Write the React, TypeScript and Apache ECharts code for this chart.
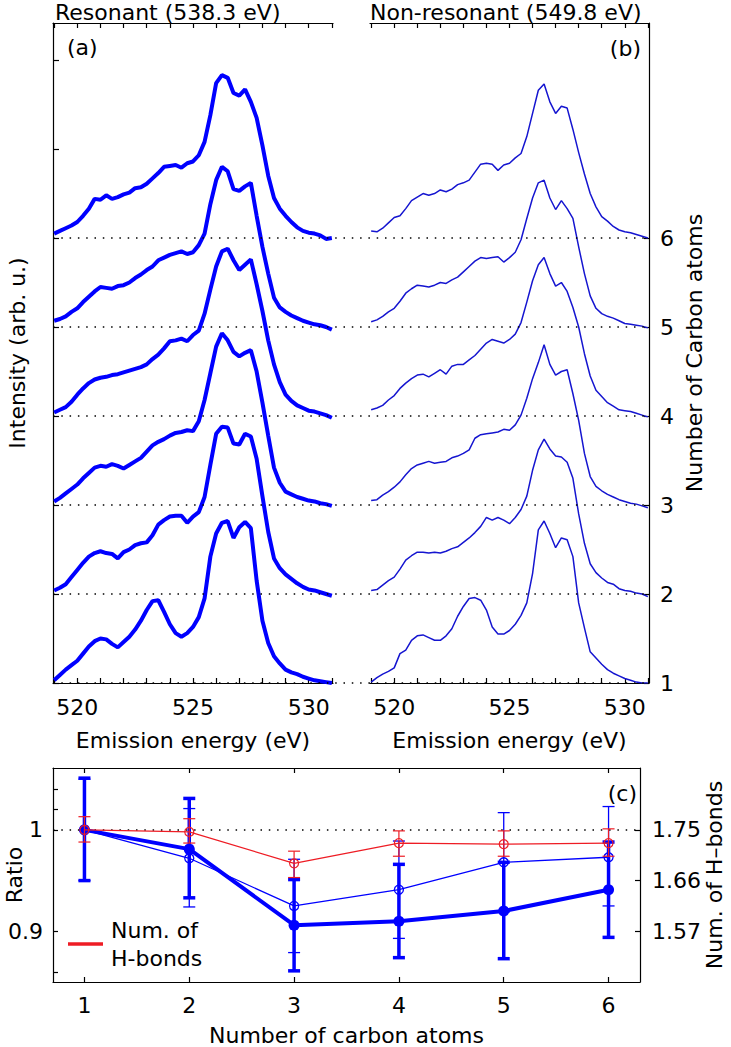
import React, { useEffect, useRef } from "react";
import * as echarts from "echarts";

// ---------- DATA ----------
const energyGrid = [519, 519.25, 519.5, 519.75, 520, 520.25, 520.5, 520.75, 521, 521.25, 521.5, 521.75, 522, 522.25, 522.5, 522.75, 523, 523.25, 523.5, 523.75, 524, 524.25, 524.5, 524.75, 525, 525.25, 525.5, 525.75, 526, 526.25, 526.5, 526.75, 527, 527.25, 527.5, 527.75, 528, 528.25, 528.5, 528.75, 529, 529.25, 529.5, 529.75, 530, 530.25, 530.5, 530.75, 531];

// Resonant (538.3 eV) spectra, intensity above each baseline (1 unit = one baseline step)
const res1 = [0.03, 0.09, 0.15, 0.2, 0.25, 0.33, 0.41, 0.47, 0.5, 0.49, 0.44, 0.4, 0.46, 0.52, 0.6, 0.7, 0.82, 0.92, 0.93, 0.8, 0.66, 0.56, 0.52, 0.56, 0.63, 0.74, 0.95, 1.42, 1.68, 1.8, 1.82, 1.63, 1.75, 1.81, 1.74, 1.15, 0.7, 0.45, 0.3, 0.22, 0.15, 0.12, 0.1, 0.07, 0.05, 0.03, 0.02, 0.01, 0.0];
const res2 = [0.04, 0.07, 0.11, 0.19, 0.27, 0.35, 0.42, 0.46, 0.48, 0.46, 0.45, 0.4, 0.47, 0.5, 0.55, 0.57, 0.58, 0.66, 0.78, 0.83, 0.87, 0.88, 0.88, 0.8, 0.87, 0.92, 1.09, 1.45, 1.8, 1.88, 1.87, 1.69, 1.68, 1.8, 1.77, 1.52, 1.1, 0.7, 0.4, 0.29, 0.22, 0.17, 0.12, 0.08, 0.05, 0.04, 0.02, 0.0, -0.02];
const res3 = [0.04, 0.08, 0.13, 0.18, 0.23, 0.3, 0.36, 0.42, 0.44, 0.43, 0.46, 0.44, 0.41, 0.45, 0.49, 0.53, 0.6, 0.67, 0.71, 0.74, 0.78, 0.81, 0.82, 0.84, 0.83, 0.94, 1.18, 1.48, 1.78, 1.93, 1.85, 1.72, 1.67, 1.71, 1.74, 1.5, 1.15, 0.78, 0.42, 0.25, 0.15, 0.12, 0.09, 0.07, 0.05, 0.04, 0.02, 0.01, -0.01];
const res4 = [0.04, 0.07, 0.1, 0.16, 0.24, 0.31, 0.37, 0.41, 0.43, 0.44, 0.46, 0.47, 0.49, 0.51, 0.53, 0.55, 0.58, 0.64, 0.69, 0.76, 0.84, 0.85, 0.87, 0.84, 0.91, 0.96, 1.15, 1.42, 1.68, 1.85, 1.88, 1.75, 1.64, 1.7, 1.76, 1.48, 1.18, 0.85, 0.58, 0.38, 0.24, 0.17, 0.12, 0.09, 0.06, 0.05, 0.03, 0.01, -0.02];
const res5 = [0.07, 0.09, 0.12, 0.17, 0.21, 0.28, 0.34, 0.4, 0.45, 0.44, 0.43, 0.46, 0.47, 0.5, 0.55, 0.59, 0.64, 0.68, 0.75, 0.78, 0.81, 0.83, 0.85, 0.82, 0.84, 0.92, 1.05, 1.38, 1.65, 1.8, 1.75, 1.55, 1.53, 1.58, 1.62, 1.25, 0.9, 0.6, 0.33, 0.22, 0.17, 0.13, 0.1, 0.07, 0.05, 0.03, 0.02, 0.0, -0.03];
const res6 = [0.05, 0.08, 0.11, 0.14, 0.18, 0.25, 0.33, 0.44, 0.43, 0.48, 0.44, 0.46, 0.49, 0.51, 0.56, 0.57, 0.61, 0.67, 0.73, 0.8, 0.81, 0.82, 0.79, 0.84, 0.86, 0.93, 1.08, 1.38, 1.74, 1.83, 1.8, 1.63, 1.6, 1.67, 1.53, 1.35, 1.04, 0.7, 0.45, 0.33, 0.25, 0.18, 0.12, 0.08, 0.06, 0.05, 0.03, -0.01, 0.0];

// Non-resonant (549.8 eV) spectra
const nonres1 = [0.01, 0.06, 0.1, 0.13, 0.17, 0.33, 0.37, 0.48, 0.53, 0.54, 0.51, 0.48, 0.48, 0.53, 0.61, 0.75, 0.86, 0.95, 0.96, 0.93, 0.82, 0.63, 0.55, 0.55, 0.59, 0.66, 0.76, 0.9, 1.23, 1.72, 1.82, 1.68, 1.52, 1.63, 1.61, 1.42, 0.9, 0.62, 0.35, 0.28, 0.21, 0.15, 0.11, 0.08, 0.05, 0.03, 0.01, 0.0, 0.0];
const nonres2 = [0.04, 0.05, 0.1, 0.15, 0.19, 0.28, 0.38, 0.43, 0.47, 0.47, 0.46, 0.47, 0.46, 0.48, 0.51, 0.53, 0.58, 0.63, 0.69, 0.76, 0.86, 0.83, 0.86, 0.83, 0.79, 0.86, 0.95, 1.1, 1.39, 1.62, 1.74, 1.63, 1.55, 1.54, 1.48, 1.3, 0.9, 0.57, 0.34, 0.24, 0.18, 0.13, 0.11, 0.06, 0.04, 0.03, 0.01, 0.0, -0.03];
const nonres3 = [0.05, 0.06, 0.11, 0.15, 0.2, 0.26, 0.34, 0.41, 0.45, 0.47, 0.49, 0.47, 0.48, 0.49, 0.53, 0.55, 0.58, 0.62, 0.75, 0.79, 0.8, 0.81, 0.82, 0.85, 0.84, 0.9, 1.01, 1.2, 1.42, 1.6, 1.8, 1.58, 1.46, 1.5, 1.52, 1.25, 0.95, 0.58, 0.32, 0.21, 0.16, 0.12, 0.09, 0.06, 0.04, 0.02, 0.01, -0.01, -0.03];
const nonres4 = [0.07, 0.09, 0.12, 0.18, 0.23, 0.31, 0.37, 0.42, 0.46, 0.47, 0.44, 0.48, 0.52, 0.47, 0.56, 0.58, 0.58, 0.63, 0.68, 0.75, 0.82, 0.86, 0.84, 0.82, 0.86, 0.92, 1.05, 1.28, 1.52, 1.7, 1.78, 1.6, 1.46, 1.5, 1.4, 1.22, 1.0, 0.7, 0.45, 0.29, 0.22, 0.15, 0.11, 0.07, 0.06, 0.05, 0.03, 0.01, -0.01];
const nonres5 = [0.06, 0.08, 0.12, 0.17, 0.21, 0.29, 0.38, 0.43, 0.47, 0.46, 0.45, 0.47, 0.5, 0.49, 0.53, 0.56, 0.62, 0.68, 0.74, 0.78, 0.77, 0.78, 0.79, 0.73, 0.78, 0.84, 0.98, 1.22, 1.45, 1.62, 1.65, 1.45, 1.32, 1.42, 1.33, 1.22, 0.9, 0.6, 0.35, 0.21, 0.15, 0.12, 0.1, 0.07, 0.04, 0.03, 0.02, 0.01, -0.01];
const nonres6 = [0.08, 0.07, 0.11, 0.17, 0.23, 0.25, 0.33, 0.42, 0.46, 0.5, 0.48, 0.5, 0.54, 0.52, 0.55, 0.6, 0.62, 0.65, 0.74, 0.83, 0.84, 0.83, 0.76, 0.82, 0.84, 0.9, 0.95, 1.14, 1.4, 1.66, 1.73, 1.53, 1.4, 1.48, 1.46, 1.22, 0.96, 0.72, 0.5, 0.35, 0.24, 0.19, 0.13, 0.09, 0.07, 0.06, 0.04, 0.02, 0.0];

const resonantCurves = [res1, res2, res3, res4, res5, res6];
const nonresonantCurves = [nonres1, nonres2, nonres3, nonres4, nonres5, nonres6];
const baselineLevels = [1, 2, 3, 4, 5, 6];

const energyTicks = [519, 520, 521, 522, 523, 524, 525, 526, 527, 528, 529, 530, 531];
const energyLabels = [520, 525, 530];
const leftIntensityTicks = [1, 2, 3, 4, 5, 6, 7, 8];

// Panel (c)
const carbonCounts = [1, 2, 3, 4, 5, 6];
const hbondRatio = [1.0, 0.998, 0.967, 0.987, 0.986, 0.987];
const hbondLow = [0.988, 0.987, 0.953, 0.974, 0.974, 0.974];
const hbondHigh = [1.013, 1.011, 0.979, 0.999, 0.999, 1.001];
const nonresRatio = [1.0, 0.972, 0.925, 0.941, 0.968, 0.973];
const nonresLow = [0.95, 0.924, 0.879, 0.893, 0.919, 0.925];
const nonresHigh = [1.05, 1.021, 0.971, 0.989, 1.017, 1.023];
const resRatio = [1.0, 0.981, 0.906, 0.91, 0.92, 0.941];
const resLow = [0.95, 0.933, 0.861, 0.874, 0.873, 0.894];
const resHigh = [1.051, 1.031, 0.951, 0.966, 0.968, 0.988];
const ratioTicks = [0.86, 0.9, 1, 1.02, 1.04];
const ratioLabels = [0.9, 1];
const hbondTicks = [1.575, 1.6625, 1.75];

// ---------- STYLE ----------
const FONT = "DejaVu Sans";
const BLUE = "#0000ff";
const THIN_BLUE = "#1515d0";
const RED = "#ee1c24";
const axisLine = { color: "#000", width: 1.2 };
const txt = { fontFamily: FONT, fontSize: 22, color: "#000" };

function errorBars(color: string, width: number, capHalf: number) {
  return (_params: any, api: any) => {
    const x = api.value(0);
    const lo = api.coord([x, api.value(1)]);
    const hi = api.coord([x, api.value(2)]);
    const style = { stroke: color, lineWidth: width };
    return {
      type: "group",
      children: [
        { type: "line", shape: { x1: lo[0], y1: lo[1], x2: hi[0], y2: hi[1] }, style },
        { type: "line", shape: { x1: lo[0] - capHalf, y1: lo[1], x2: lo[0] + capHalf, y2: lo[1] }, style },
        { type: "line", shape: { x1: hi[0] - capHalf, y1: hi[1], x2: hi[0] + capHalf, y2: hi[1] }, style },
      ],
    };
  };
}

function energyAxis(gridIndex: number, position: string, withLabels: boolean) {
  return {
    type: "value",
    gridIndex,
    position,
    min: 518.95,
    max: 531.05,
    axisLine: { show: true, onZero: false, lineStyle: axisLine },
    axisTick: { show: true, inside: true, length: 5, customValues: energyTicks, lineStyle: axisLine },
    axisLabel: withLabels
      ? { show: true, customValues: energyLabels, margin: 13, ...txt }
      : { show: false },
    splitLine: { show: false },
    ...(withLabels
      ? {
          name: "Emission energy (eV)",
          nameLocation: "middle",
          nameGap: 46,
          nameMoveOverlap: false,
          nameTextStyle: txt,
        }
      : {}),
  };
}

function carbonAxis(position: string, withLabels: boolean) {
  return {
    type: "value",
    gridIndex: 3,
    position,
    min: 0.7,
    max: 6.3,
    axisLine: { show: true, onZero: false, lineStyle: axisLine },
    axisTick: { show: true, inside: true, length: 5, customValues: carbonCounts, lineStyle: axisLine },
    axisLabel: withLabels ? { show: true, customValues: carbonCounts, margin: 12, ...txt } : { show: false },
    splitLine: { show: false },
    ...(withLabels
      ? {
          name: "Number of carbon atoms",
          nameLocation: "middle",
          nameGap: 42,
          nameMoveOverlap: false,
          nameTextStyle: txt,
        }
      : {}),
  };
}

function buildOption() {
  const series: any[] = [];

  resonantCurves.forEach((curve, k) => {
    series.push({
      type: "line",
      xAxisIndex: 0,
      yAxisIndex: 0,
      data: energyGrid.map((e, i) => [e, curve[i] + baselineLevels[k]]),
      symbol: "none",
      lineStyle: { color: BLUE, width: 4 },
      z: 3,
      silent: true,
    });
  });

  nonresonantCurves.forEach((curve, k) => {
    series.push({
      type: "line",
      xAxisIndex: 2,
      yAxisIndex: 1,
      data: energyGrid.map((e, i) => [e, curve[i] + baselineLevels[k]]),
      symbol: "none",
      lineStyle: { color: THIN_BLUE, width: 1.5 },
      z: 3,
      silent: true,
    });
  });

  // dotted baselines across both spectra panels
  series.push({
    type: "line",
    xAxisIndex: 4,
    yAxisIndex: 2,
    data: [[0, 1]],
    symbol: "none",
    lineStyle: { width: 0 },
    z: 1,
    silent: true,
    markLine: {
      silent: true,
      symbol: "none",
      label: { show: false },
      lineStyle: { type: [1.5, 6.8], color: "#000", width: 1.6 },
      data: baselineLevels.map((v) => ({ yAxis: v })),
    },
  });

  // panel (c)
  series.push({
    type: "custom",
    xAxisIndex: 5,
    yAxisIndex: 3,
    renderItem: errorBars(BLUE, 3.5, 6),
    encode: { x: 0, y: [1, 2] },
    data: carbonCounts.map((c, i) => [c, resLow[i], resHigh[i]]),
    z: 4,
    silent: true,
  });
  series.push({
    type: "line",
    xAxisIndex: 5,
    yAxisIndex: 3,
    data: carbonCounts.map((c, i) => [c, resRatio[i]]),
    symbol: "circle",
    symbolSize: 11,
    showSymbol: true,
    itemStyle: { color: BLUE },
    lineStyle: { color: BLUE, width: 4 },
    z: 5,
    silent: true,
  });
  series.push({
    type: "custom",
    xAxisIndex: 5,
    yAxisIndex: 3,
    renderItem: errorBars(BLUE, 1.3, 6),
    encode: { x: 0, y: [1, 2] },
    data: carbonCounts.map((c, i) => [c, nonresLow[i], nonresHigh[i]]),
    z: 6,
    silent: true,
  });
  series.push({
    type: "line",
    xAxisIndex: 5,
    yAxisIndex: 3,
    data: carbonCounts.map((c, i) => [c, nonresRatio[i]]),
    symbol: "circle",
    symbolSize: 9,
    showSymbol: true,
    itemStyle: { color: "rgba(0,0,0,0)", borderColor: BLUE, borderWidth: 1.3 },
    lineStyle: { color: BLUE, width: 1.3 },
    z: 7,
    silent: true,
  });
  series.push({
    type: "custom",
    xAxisIndex: 5,
    yAxisIndex: 3,
    renderItem: errorBars(RED, 1.2, 6),
    encode: { x: 0, y: [1, 2] },
    data: carbonCounts.map((c, i) => [c, hbondLow[i], hbondHigh[i]]),
    z: 8,
    silent: true,
  });
  series.push({
    type: "line",
    name: "Num. of\nH-bonds",
    xAxisIndex: 5,
    yAxisIndex: 3,
    data: carbonCounts.map((c, i) => [c, hbondRatio[i]]),
    symbol: "circle",
    symbolSize: 9,
    showSymbol: true,
    itemStyle: { color: "rgba(0,0,0,0)", borderColor: RED, borderWidth: 1.2 },
    lineStyle: { color: RED, width: 1.2 },
    z: 9,
    silent: true,
    markLine: {
      silent: true,
      symbol: "none",
      label: { show: false },
      lineStyle: { type: [1.5, 6.8], color: "#000", width: 1.6 },
      data: [{ yAxis: 1 }],
      z: 1,
    },
  });

  return {
    animation: false,
    backgroundColor: "#fff",
    textStyle: { fontFamily: FONT },
    grid: [
      { left: 53, top: 23, width: 280, height: 660, outerBoundsMode: "none", containLabel: false },
      { left: 370, top: 23, width: 279, height: 660, outerBoundsMode: "none", containLabel: false },
      { left: 53, top: 23, width: 596, height: 660, outerBoundsMode: "none", containLabel: false },
      { left: 53, top: 768, width: 587, height: 214, outerBoundsMode: "none", containLabel: false },
    ],
    xAxis: [
      energyAxis(0, "bottom", true),
      energyAxis(0, "top", false),
      energyAxis(1, "bottom", true),
      energyAxis(1, "top", false),
      { type: "value", gridIndex: 2, min: 0, max: 1, show: false },
      carbonAxis("bottom", true),
      carbonAxis("top", false),
    ],
    yAxis: [
      {
        type: "value",
        gridIndex: 0,
        position: "left",
        min: 1,
        max: 8.416,
        axisLine: { show: true, onZero: false, lineStyle: axisLine },
        axisTick: { show: true, inside: true, length: 6, customValues: leftIntensityTicks, lineStyle: axisLine },
        axisLabel: { show: false },
        splitLine: { show: false },
        name: "Intensity (arb. u.)",
        nameLocation: "middle",
        nameGap: 25,
        nameMoveOverlap: false,
        nameTextStyle: txt,
      },
      {
        type: "value",
        gridIndex: 1,
        position: "right",
        min: 1,
        max: 8.416,
        axisLine: { show: true, onZero: false, lineStyle: axisLine },
        axisTick: { show: true, inside: true, length: 5, customValues: baselineLevels, lineStyle: axisLine },
        axisLabel: { show: true, customValues: baselineLevels, margin: 11, ...txt },
        splitLine: { show: false },
        name: "Number of Carbon atoms",
        nameLocation: "middle",
        nameGap: 34,
        nameMoveOverlap: false,
        nameTextStyle: txt,
      },
      { type: "value", gridIndex: 2, min: 1, max: 8.416, show: false },
      {
        type: "value",
        gridIndex: 3,
        position: "left",
        min: 0.85,
        max: 1.061,
        axisLine: { show: true, onZero: false, lineStyle: axisLine },
        axisTick: { show: true, inside: true, length: 5, customValues: ratioTicks, lineStyle: axisLine },
        axisLabel: { show: true, customValues: ratioLabels, margin: 10, ...txt },
        splitLine: { show: false },
        name: "Ratio",
        nameLocation: "middle",
        nameGap: 28,
        nameMoveOverlap: false,
        nameTextStyle: txt,
      },
      {
        type: "value",
        gridIndex: 3,
        position: "right",
        min: 1.4875,
        max: 1.85675,
        axisLine: { show: true, onZero: false, lineStyle: axisLine },
        axisTick: { show: true, inside: true, length: 5, customValues: hbondTicks, lineStyle: axisLine },
        axisLabel: {
          show: true,
          customValues: hbondTicks,
          margin: 12,
          formatter: (v: number) => v.toFixed(3).slice(0, 4),
          ...txt,
        },
        splitLine: { show: false },
        name: "Num. of H\u2013bonds",
        nameLocation: "middle",
        nameGap: 63,
        nameMoveOverlap: false,
        nameTextStyle: txt,
      },
    ],
    legend: {
      data: [{ name: "Num. of\nH-bonds", icon: "rect", itemStyle: { color: RED } }],
      left: 68,
      top: 916,
      padding: 0,
      itemWidth: 33,
      itemHeight: 1.5,
      selectedMode: false,
      textStyle: { ...txt, lineHeight: 28, padding: [0, 0, 0, 4] },
    },
    graphic: [
      { type: "text", x: 55, y: 12, style: { text: "Resonant (538.3 eV)", fill: "#000", fontSize: 22, fontFamily: FONT, align: "left", verticalAlign: "middle" } },
      { type: "text", x: 370, y: 12, style: { text: "Non-resonant (549.8 eV)", fill: "#000", fontSize: 22, fontFamily: FONT, align: "left", verticalAlign: "middle" } },
      { type: "text", x: 67, y: 47, style: { text: "(a)", fill: "#000", fontSize: 22, fontFamily: FONT, align: "left", verticalAlign: "middle" } },
      { type: "text", x: 641, y: 48, style: { text: "(b)", fill: "#000", fontSize: 22, fontFamily: FONT, align: "right", verticalAlign: "middle" } },
      { type: "text", x: 637, y: 793, style: { text: "(c)", fill: "#000", fontSize: 22, fontFamily: FONT, align: "right", verticalAlign: "middle" } },
    ],
    series,
  };
}

export default function App() {
  const ref = useRef<HTMLDivElement>(null);
  useEffect(() => {
    if (!ref.current) return;
    const chart = echarts.init(ref.current, null, { renderer: "svg" });
    chart.setOption(buildOption() as any);
    return () => chart.dispose();
  }, []);
  return (
    <div
      ref={ref}
      style={{ position: "fixed", left: 0, top: 0, width: 731, height: 1047, background: "#fff" }}
    />
  );
}
